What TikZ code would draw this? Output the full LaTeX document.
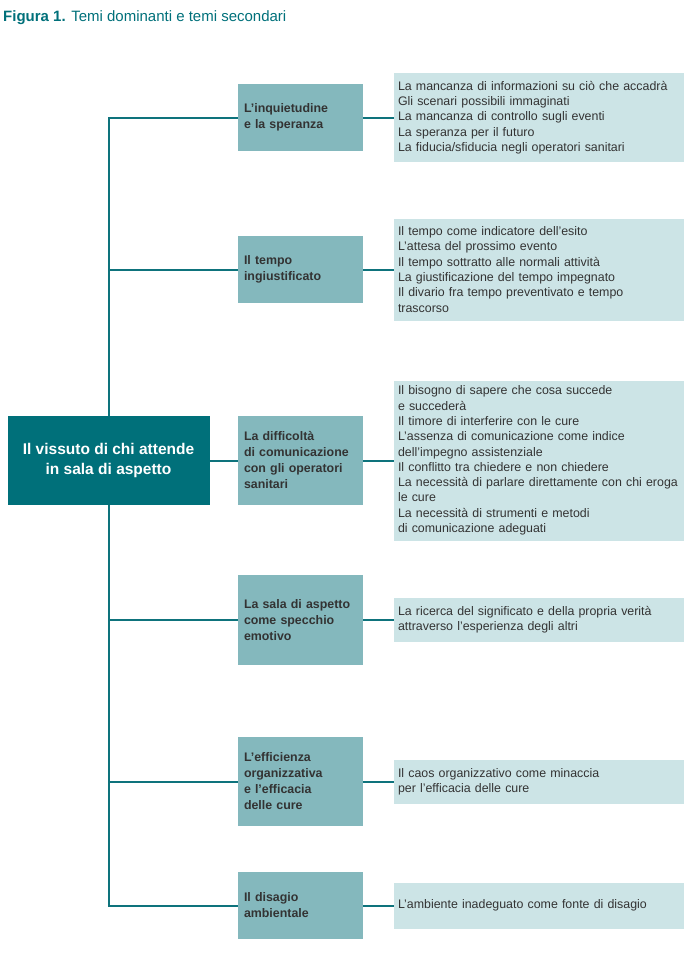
\documentclass[tikz,border=0pt]{standalone}
\usepackage{fontspec}
\setmainfont{Liberation Sans}
\usepackage{xcolor}
\usetikzlibrary{positioning}
\definecolor{TemaDark}{HTML}{00707A}
\definecolor{TemaMid}{HTML}{84B8BD}
\definecolor{TemaLight}{HTML}{CCE4E6}
\definecolor{TemaLine}{HTML}{0E737C}
\definecolor{TemaText}{HTML}{333333}

\begin{document}
\begin{tikzpicture}[x=1pt,y=-1pt,
    rootbox/.style={fill=TemaDark,text=white,align=center,
      minimum width=202pt,minimum height=89pt,
      font=\fontsize{15.5}{20.5}\selectfont\bfseries},
    tema/.style={fill=TemaMid,text=TemaText,align=left,text width=113pt,
      inner xsep=6pt,minimum width=125pt,
      font=\fontsize{12.4}{16}\selectfont\bfseries},
    sotto/.style={fill=TemaLight,text=TemaText,align=left,text width=282pt,
      inner xsep=4pt,minimum width=290pt,
      font=\fontsize{12.4}{15.3}\selectfont},
    link/.style={draw=TemaLine,line width=2pt}
  ]
    \useasboundingbox (0,0) rectangle (700,953);
    \node[anchor=west,text=TemaDark,inner sep=0pt,font=\fontsize{15}{17}\selectfont]
      (titolo) at (3,18) {\textbf{Figura 1.} Temi dominanti e temi secondari};

    \node[rootbox] (root) at (108.5,460.5) {Il vissuto di chi attende\\in sala di aspetto};

    % temi dominanti
    \node[tema,minimum height=67pt] (inquiet) at (300.5,117.5) {L’inquietudine\\e la speranza};
    \node[tema,minimum height=67pt] (tempo) at (300.5,269.5) {Il tempo\\ingiustificato};
    \node[tema,minimum height=89pt] (comun) at (300.5,460.5) {La difficoltà\\di comunicazione\\con gli operatori\\sanitari};
    \node[tema,minimum height=90pt] (sala) at (300.5,620) {La sala di aspetto\\come specchio\\emotivo};
    \node[tema,minimum height=89pt] (effic) at (300.5,781.5) {L’efficienza\\organizzativa\\e l’efficacia\\delle cure};
    \node[tema,minimum height=67pt] (disagio) at (300.5,905.5) {Il disagio\\ambientale};

    % temi secondari
    \node[sotto,minimum height=89pt] (inquietS) at (539,117.5) {La mancanza di informazioni su ciò che accadrà\\Gli scenari possibili immaginati\\La mancanza di controllo sugli eventi\\La speranza per il futuro\\La fiducia/sfiducia negli operatori sanitari};
    \node[sotto,minimum height=102pt] (tempoS) at (539,269.5) {Il tempo come indicatore dell’esito\\L’attesa del prossimo evento\\Il tempo sottratto alle normali attività\\La giustificazione del tempo impegnato\\Il divario fra tempo preventivato e tempo\\trascorso};
    \node[sotto,minimum height=160pt] (comunS) at (539,460.5) {Il bisogno di sapere che cosa succede\\e succederà\\Il timore di interferire con le cure\\L’assenza di comunicazione come indice\\dell’impegno assistenziale\\Il conflitto tra chiedere e non chiedere\\La necessità di parlare direttamente con chi eroga\\le cure\\La necessità di strumenti e metodi\\di comunicazione adeguati};
    \node[sotto,minimum height=44pt] (salaS) at (539,620) {La ricerca del significato e della propria verità\\attraverso l’esperienza degli altri};
    \node[sotto,minimum height=44pt] (efficS) at (539,781.5) {Il caos organizzativo come minaccia\\per l’efficacia delle cure};
    \node[sotto,minimum height=46pt] (disagioS) at (539,905.5) {L’ambiente inadeguato come fonte di disagio};

    \draw[link] (root.north) |- (inquiet);
    \draw[link] (root.north) |- (tempo);
    \draw[link] (root) -- (comun);
    \draw[link] (root.south) |- (sala);
    \draw[link] (root.south) |- (effic);
    \draw[link] (root.south) |- (disagio);
    \foreach \t in {inquiet,tempo,comun,sala,effic,disagio}
      \draw[link] (\t) -- (\t S);
  \end{tikzpicture}
\end{document}
